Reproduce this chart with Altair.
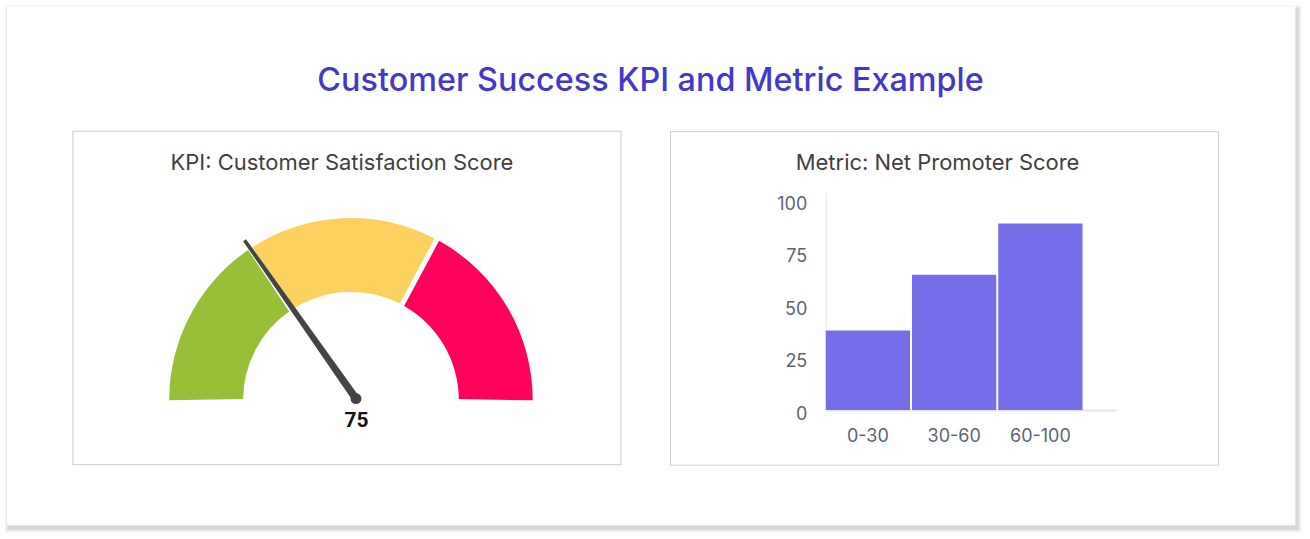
import math

import altair as alt
import pandas as pd

# ---- data -------------------------------------------------------------
# Satisfaction gauge: colour bands on a 0-100 dial
zone_names = ["low", "mid", "high"]
zone_start = [0, 31.5, 65.5]
zone_end = [31.5, 65.5, 100]
zone_colors = ["#97bf37", "#fdd15e", "#ff005a"]

score = [75]          # value printed under the dial
needle_pos = [30.7]   # where the needle rests on the 0-100 dial

# Net Promoter Score distribution
nps_bins = ["0-30", "30-60", "60-100"]
nps_counts = [38, 64.5, 89]
nps_ticks = [0, 25, 50, 75, 100]

# ---- layout constants -------------------------------------------------
PANEL_W, PANEL_H = 549, 334
GAP = 49
FONT = "Inter"
ANGLE_PAD = 0.017                      # radians added below the horizon
ANGLE_PAD_DEG = math.degrees(ANGLE_PAD)

one = pd.DataFrame({"k": [0]})


def box(x0, x1, y0, y1, **mark):
    return alt.Chart(one).mark_rect(**mark).encode(
        x=alt.value(x0), x2=alt.value(x1), y=alt.value(y0), y2=alt.value(y1)
    )


# page background and card with a soft drop shadow (drawn from the left panel)
page = box(-72, 1238, -130, 409, color="white")
CX0, CX1, CY0, CY1 = -66, 1224.3, -125, 394.7
shadow = [
    box(CX0 - i + 2, CX1 + i + 2, CY0 - i + 3, CY1 + i + 3, color="black", opacity=0.04)
    for i in range(1, 5)
]
card = box(CX0, CX1, CY0, CY1, color="white")
frame = box(0, PANEL_W, 0, PANEL_H, fillOpacity=0, stroke="#cccccc", strokeWidth=1)

main_title = alt.Chart(one).mark_text(
    text="Customer Success KPI and Metric Example",
    font=FONT, fontSize=32.4, fontWeight=500, color="#4338ca",
    align="center", baseline="alphabetic",
).encode(x=alt.value(578.5), y=alt.value(-40))

kpi_title = alt.Chart(one).mark_text(
    text="KPI: Customer Satisfaction Score",
    font=FONT, fontSize=22, color="#3f3f3f", align="center", baseline="middle",
).encode(x=alt.value(269.5), y=alt.value(32))

# ---- gauge ------------------------------------------------------------
zones = pd.DataFrame({"zone": zone_names, "start": zone_start, "end": zone_end})
theta_scale = alt.Scale(domain=[0, 100],
                        range=[-math.pi / 2 - ANGLE_PAD, math.pi / 2 + ANGLE_PAD])
dial = alt.Chart(zones).mark_arc(radius=182, radius2=108, padAngle=0.024).encode(
    theta=alt.Theta("start:Q", scale=theta_scale),
    theta2="end:Q",
    color=alt.Color("zone:N", scale=alt.Scale(domain=zone_names, range=zone_colors),
                    legend=None),
    x=alt.value(278.5),
    y=alt.value(269),
)

NEEDLE = "M -0.02 0 L 0.02 0 L 0.009 -1 L -0.009 -1 Z"
needle = alt.Chart(pd.DataFrame({"pos": needle_pos})).mark_point(
    shape=NEEDLE, filled=True, color="#444444", opacity=1, size=388 ** 2, strokeWidth=0,
).encode(
    angle=alt.Angle("pos:Q", scale=alt.Scale(domain=[0, 100],
                                             range=[270 - ANGLE_PAD_DEG, 450 + ANGLE_PAD_DEG])),
    x=alt.value(283.5),
    y=alt.value(267.8),
)
hub = alt.Chart(one).mark_point(
    shape="circle", filled=True, color="#444444", opacity=1, size=121, strokeWidth=0,
).encode(x=alt.value(283.5), y=alt.value(267.8))

score_text = alt.Chart(pd.DataFrame({"score": score})).mark_text(
    font="Roboto", fontWeight="bold", fontSize=21, color="#111111",
    align="center", baseline="alphabetic",
).encode(text="score:Q", x=alt.value(284), y=alt.value(296.7))

left = alt.layer(
    page, *shadow, card, frame, main_title, kpi_title, dial, needle, hub, score_text
).properties(width=PANEL_W, height=PANEL_H)

# ---- NPS bar chart ----------------------------------------------------
nps = pd.DataFrame({"bin": nps_bins, "count": nps_counts})
axis_style = dict(title=None, ticks=False, grid=False, domainColor="#e6e6e6",
                  labelColor="#5b6478", labelFont=FONT, labelFontSize=18)
bars = alt.Chart(nps).mark_bar(color="#766de8").encode(
    x=alt.X("bin:N", sort=nps_bins,
            scale=alt.Scale(range=[156, 446], paddingInner=0.023, paddingOuter=0.19, align=0),
            axis=alt.Axis(labelAngle=0, labelPadding=17, offset=-54.7, domainWidth=2,
                          **axis_style)),
    y=alt.Y("count:Q",
            scale=alt.Scale(domain=[0, 103.6], range=[279.3, 61.7], nice=False),
            axis=alt.Axis(values=nps_ticks, labelPadding=19, labelOffset=4, offset=-156,
                          domainWidth=1, **axis_style)),
)
nps_title = alt.Chart(one).mark_text(
    text="Metric: Net Promoter Score",
    font=FONT, fontSize=22, color="#3f3f3f", align="center", baseline="middle",
).encode(x=alt.value(268), y=alt.value(32))

right = alt.layer(bars, nps_title).properties(width=PANEL_W, height=PANEL_H)

chart = alt.hconcat(left, right, spacing=GAP, bounds="flush").properties(
    background="white", padding=0
).configure_view(stroke="#cccccc", strokeWidth=1)

chart.save("out.html", embed_options={"renderer": "svg", "actions": False})
